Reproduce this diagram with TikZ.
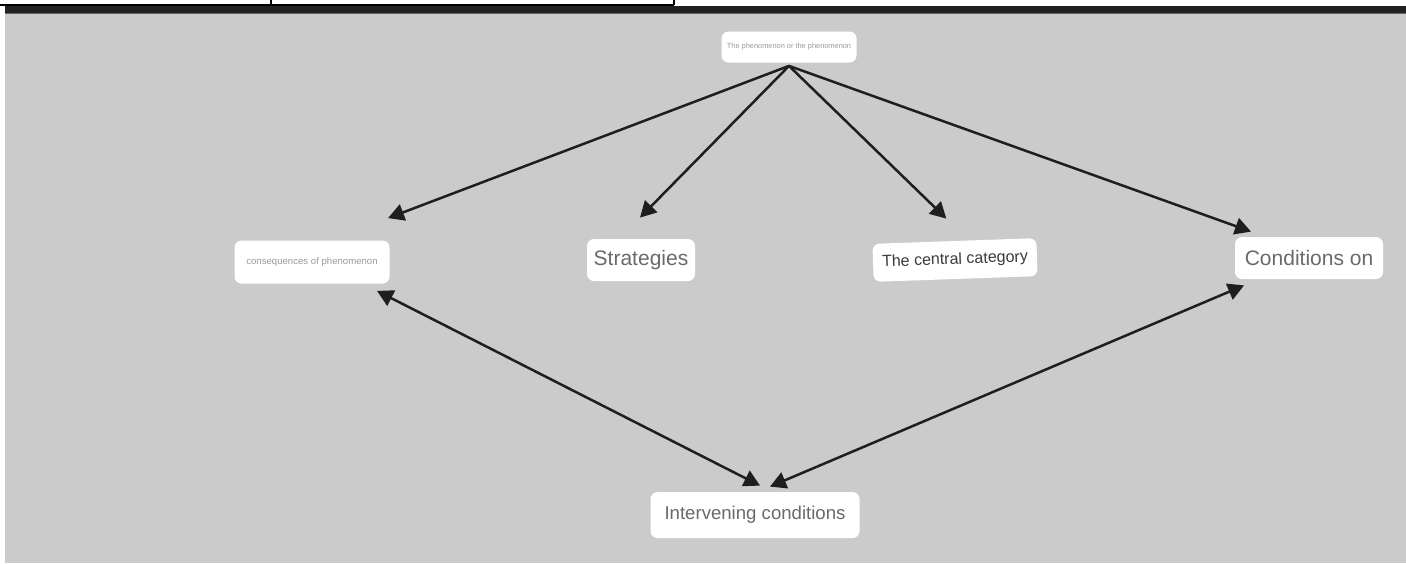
\documentclass[tikz,border=0pt]{standalone}
\usepackage{fontspec}
\setmainfont{Liberation Sans}
\usetikzlibrary{arrows.meta,calc}
\definecolor{bg}{HTML}{CBCBCB}
\definecolor{bar}{HTML}{222222}
\definecolor{txt}{HTML}{6A6A6A}
\definecolor{txtd}{HTML}{3A3A3A}
\definecolor{txtl}{HTML}{9A9A9A}
\definecolor{arrc}{HTML}{1E1E1E}
\tikzset{
  box/.style={fill=white, rounded corners=3.5pt, inner sep=0pt, text=txt},
  arr/.style={draw=arrc, line width=1.25pt, -{Triangle[length=8pt,width=8.5pt]}},
  darr/.style={draw=arrc, line width=1.25pt, {Triangle[length=8pt,width=8.5pt]}-{Triangle[length=8pt,width=8.5pt]}},
  frame/.style={draw=black, line width=0.6pt}
}
\begin{document}
\begin{tikzpicture}[x=0.5pt,y=-0.5pt]
\useasboundingbox (0,0) rectangle (1406,563);
% page background
\fill[white] (0,0) rectangle (1406,563);
\fill[bg] (5,13) rectangle (1406,563);
\fill[bar] (5,6) rectangle (1406,12.5);
\fill[bar!60!bg] (5,12.5) rectangle (1406,14);
% table fragment at top
\draw[frame] (0,5) -- (674,5);
\draw[frame] (271,0) -- (271,5);
\draw[frame] (674,0) -- (674,5);
% nodes
\node[box, minimum width=67.5pt, minimum height=15.5pt, text=txtl] (top) at (789,47)
  {\fontsize{3.7}{4}\selectfont The phenomenon or the phenomenon};
\node[box, minimum width=77.5pt, minimum height=21.5pt, text=txtl] (cons) at (312,262)
  {\fontsize{4.8}{5}\selectfont consequences of phenomenon};
\node[box, minimum width=54pt, minimum height=21pt] (strat) at (641,260)
  {\fontsize{10.5}{12}\selectfont Strategies};
\node[box, minimum width=82pt, minimum height=19pt, rotate=2, text=txtd] (cent) at (955,260)
  {\fontsize{8}{10}\selectfont The central category};
\node[box, minimum width=74pt, minimum height=21pt] (cond) at (1309,258)
  {\fontsize{10.5}{12}\selectfont Conditions on};
\node[box, minimum width=104.5pt, minimum height=23pt] (inter) at (755,515)
  {\fontsize{9.3}{11}\selectfont Intervening conditions};
% connectors
\draw[arr] ([yshift=-1.5pt]top.south) -- ([shift={(76,-22)}]cons.north);
\draw[arr] ([yshift=-1.5pt]top.south) -- ([shift={(-1,-21)}]strat.north);
\draw[arr] ([yshift=-1.5pt]top.south) -- ([shift={(-8,-22)}]cent.north);
\draw[arr] ([yshift=-1.5pt]top.south) -- ([shift={(-58,-5)}]cond.north);
\draw[darr] ([shift={(65,7)}]cons.south) -- ([shift={(5,-6)}]inter.north);
\draw[darr] ([shift={(-65,6)}]cond.south) -- ([shift={(15,-5)}]inter.north);
\end{tikzpicture}
\end{document}
